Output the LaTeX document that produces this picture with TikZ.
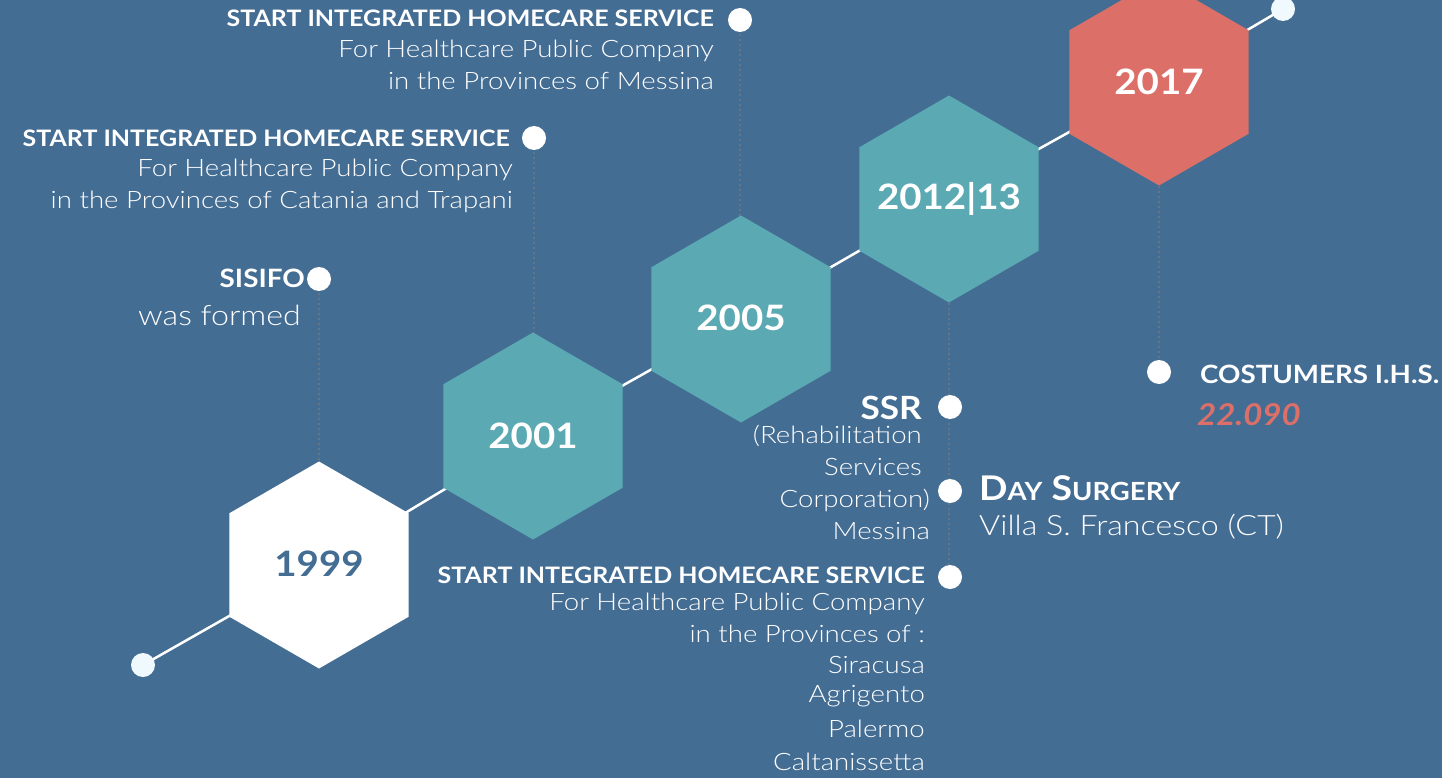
\documentclass[tikz,border=0pt]{standalone}
\usepackage{fontspec}
\setmainfont{Lato}
\newfontfamily\lightfont{Lato Light}[FakeStretch=1.15]
\newfontfamily\boldfont{Lato}[FakeStretch=1.1]
\usetikzlibrary{shapes.geometric}
\definecolor{bgblue}{HTML}{446D94}
\definecolor{hexteal}{HTML}{5BA9B3}
\definecolor{hexcoral}{HTML}{DC7068}
\definecolor{dotgray}{HTML}{8A8078}
\pgfdeclarelayer{bg}
\pgfdeclarelayer{lines}
\pgfsetlayers{bg,lines,main}
\newcommand{\yr}[1]{\makebox[0pt][c]{#1}}
\begin{document}
\begin{tikzpicture}[x=1pt,y=-1pt,
  hex/.style={regular polygon, regular polygon sides=6, regular polygon rotate=30,
    minimum size=207pt, inner sep=0pt, text=white,
    font=\boldfont\bfseries\fontsize{35}{40}\selectfont},
  tdot/.style={circle, fill=white, minimum size=24pt, inner sep=0pt},
  txt/.style={inner sep=0pt, text=white},
  head/.style={txt, font=\boldfont\bfseries\fontsize{22.7}{26}\selectfont},
  body/.style={txt, font=\lightfont\fontsize{24}{28}\selectfont},
  mainline/.style={white, line width=2.5pt},
  dotline/.style={dotgray, line width=1.6pt, line cap=round, dash pattern=on 0pt off 5pt}]
\useasboundingbox (0,0) rectangle (1442,778);
\begin{pgfonlayer}{bg}
\fill[bgblue] (0,0) rectangle (1442,778);
\end{pgfonlayer}
% hexagons
\node[hex, fill=white, text=bgblue] (h1) at (319,565) {\yr{\raisebox{3pt}{1999}}};
\node[hex, fill=hexteal] (h2) at (533,436) {\yr{2001}};
\node[hex, fill=hexteal] (h3) at (741,319) {\yr{\raisebox{2pt}{2005}}};
\node[hex, fill=hexteal] (h4) at (949,199) {\yr{2012|13}};
\node[hex, fill=hexcoral] (h5) at (1159,82) {\yr{2017}};
% dots
\node[tdot, fill=white!94!cyan] (d0) at (143,665) {};
\node[tdot, fill=white!94!cyan] (d9) at (1283,9) {};
\node[tdot] (dA) at (740,20) {};
\node[tdot] (dB) at (534,138) {};
\node[tdot] (dC) at (319,279) {};
\node[tdot] (dD) at (950,407) {};
\node[tdot] (dE) at (950,491) {};
\node[tdot] (dF) at (950,577) {};
\node[tdot] (dG) at (1159,372) {};
% connectors
\begin{pgfonlayer}{lines}
\draw[mainline] (d0.center) -- (h1.center) -- (h2.center) -- (h3.center) -- (h4.center) -- (h5.center) -- (d9.center);
\draw[dotline] (dA.center) -- (dA.center |- h3.center);
\draw[dotline] (dB.center) -- (dB.center |- h2.center);
\draw[dotline] (dC.center) -- (dC.center |- h1.center);
\draw[dotline] (h4.center) -- (h4.center |- dF.center);
\draw[dotline] (h5.center) -- (h5.center |- dG.center);
\end{pgfonlayer}
% texts block A
\node[head, anchor=base east] (tA1) at (714,27) {START INTEGRATED HOMECARE SERVICE};
\node[body, anchor=base east] (tA2) at (714,58) {For Healthcare Public Company};
\node[body, anchor=base east] (tA3) at (714,90) {in the Provinces of Messina};
% block B
\node[head, anchor=base east] (tB1) at (510,147) {START INTEGRATED HOMECARE SERVICE};
\node[body, anchor=base east] (tB2) at (513,177) {For Healthcare Public Company};
\node[body, anchor=base east] (tB3) at (513,208) {in the Provinces of Catania and Trapani};
% SISIFO
\node[txt, font=\boldfont\bfseries\fontsize{25.3}{28}\selectfont, anchor=base east] (tC1) at (305,287) {SISIFO};
\node[body, font=\lightfont\fontsize{28}{32}\selectfont, anchor=base east] (tC2) at (301,325) {was formed};
% SSR
\node[txt, font=\boldfont\bfseries\fontsize{32}{34}\selectfont, anchor=base east] (tD1) at (922,419) {SSR};
\node[body, anchor=base east] (tD2) at (922,443) {(Rehabilitation};
\node[body, anchor=base east] (tD3) at (922,475) {Services};
\node[body, anchor=base east] (tD4) at (930,507) {Corporation)};
\node[body, anchor=base east] (tD5) at (930,539) {Messina};
% Day surgery
\node[txt, font=\boldfont\bfseries\fontsize{34}{36}\selectfont, anchor=base west] (tE1) at (979,500) {D{\fontsize{25}{28}\selectfont AY} S{\fontsize{25}{28}\selectfont URGERY}};
\node[body, font=\lightfont\fontsize{28}{32}\selectfont, anchor=base west] (tE2) at (979,535) {Villa S. Francesco (CT)};
% block F
\node[head, anchor=base east] (tF1) at (925,583) {START INTEGRATED HOMECARE SERVICE};
\node[body, anchor=base east] (tF2) at (925,610) {For Healthcare Public Company};
\node[body, anchor=base east] (tF3) at (925,642) {in the Provinces of :};
\node[body, anchor=base east] (tF4) at (925,673) {Siracusa};
\node[body, anchor=base east] (tF5) at (925,702) {Agrigento};
\node[body, anchor=base east] (tF6) at (925,737) {Palermo};
\node[body, anchor=base east] (tF7) at (925,770) {Caltanissetta};
% costumers
\node[txt, font=\boldfont\bfseries\fontsize{25.2}{28}\selectfont, anchor=base west] (tG1) at (1200,383) {COSTUMERS I.H.S.};
\node[txt, text=hexcoral, font=\boldfont\bfseries\itshape\fontsize{30}{32}\selectfont, anchor=base west] (tG2) at (1197,425) {22.090};
\end{tikzpicture}
\end{document}
